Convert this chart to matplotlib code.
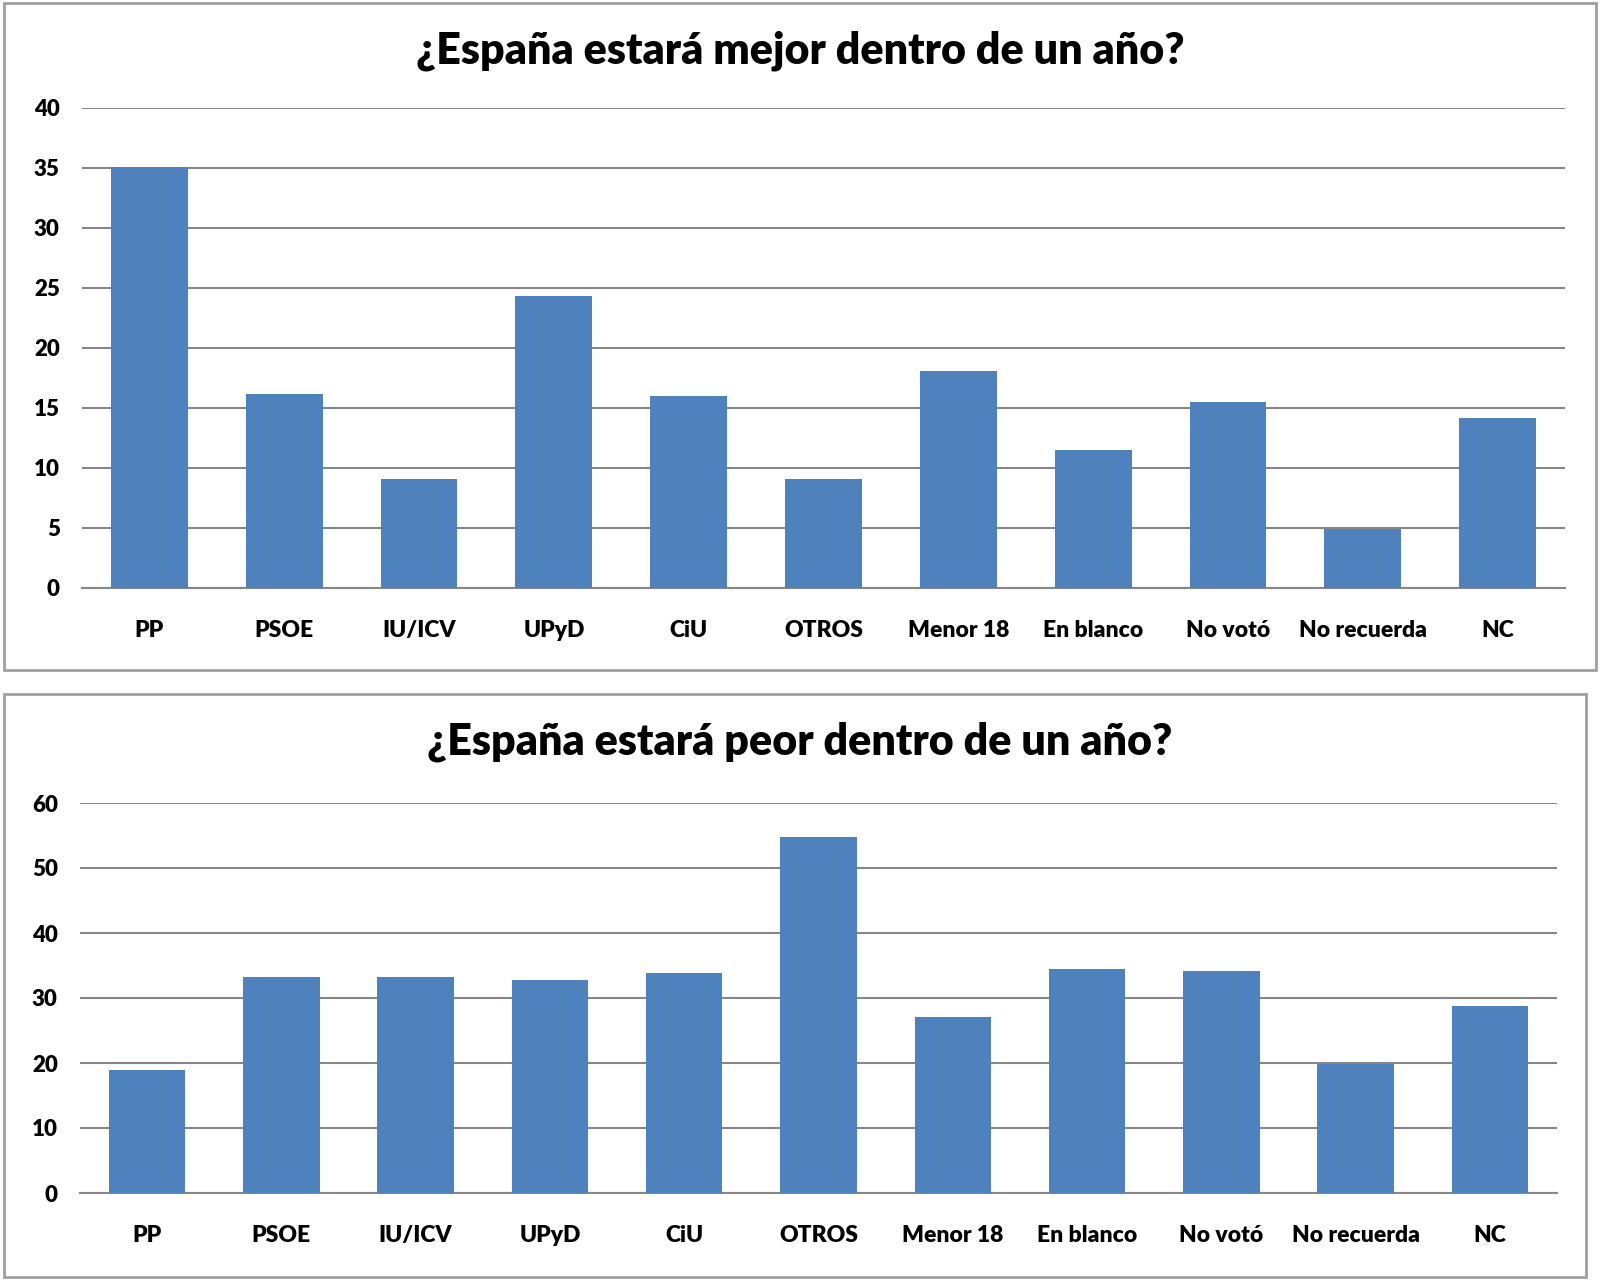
import matplotlib
matplotlib.use("Agg")
import matplotlib.pyplot as plt
from matplotlib.patches import Rectangle

plt.rcParams["font.family"] = ["Lato", "DejaVu Sans"]

categories = ["PP", "PSOE", "IU/ICV", "UPyD", "CiU", "OTROS", "Menor 18",
              "En blanco", "No votó", "No recuerda", "NC"]
mejor = [35.1, 16.2, 9.1, 24.3, 16.0, 9.1, 18.1, 11.5, 15.5, 4.9, 14.2]
peor = [18.9, 33.3, 33.3, 32.7, 33.8, 54.7, 27.1, 34.4, 34.1, 19.9, 28.8]

title_mejor = "¿España estará mejor dentro de un año?"
title_peor = "¿España estará peor dentro de un año?"

BAR = "#4F81BD"
GRID = "#878787"
FRAME = "#A0A0A0"

W, H = 1600, 1282
fig = plt.figure(figsize=(W / 100, H / 100), dpi=100)


def px(x0, y0, x1, y1):
    # pixel box (top-left origin) -> figure fraction rect
    return (x0 / W, 1 - y1 / H, (x1 - x0) / W, (y1 - y0) / H)


def frame(x0, y0, x1, y1):
    l, b, w, h = px(x0, y0, x1, y1)
    fig.patches.append(Rectangle((l, b), w, h, transform=fig.transFigure,
                                 fill=False, edgecolor=FRAME, lw=2, zorder=0))


def panel(rect, values, ymax, step, title, title_y):
    ax = fig.add_axes(rect)
    xs = range(len(categories))
    ax.bar(xs, values, width=0.57, color=BAR, zorder=3)
    ax.set_xlim(-0.5, len(categories) - 0.5)
    ax.set_ylim(0, ymax)
    ax.set_yticks(range(0, ymax + 1, step))
    ax.yaxis.grid(True, color=GRID, lw=1.5, zorder=0)
    ax.set_axisbelow(True)
    for s in ("top", "right", "left"):
        ax.spines[s].set_visible(False)
    ax.spines["bottom"].set_color(GRID)
    ax.spines["bottom"].set_linewidth(1.5)
    ax.tick_params(length=0)
    ax.tick_params(axis="y", pad=16, labelsize=16)
    ax.tick_params(axis="x", pad=23, labelsize=16.5)
    ax.set_xticks(list(xs))
    ax.set_xticklabels(categories)
    for t in ax.get_xticklabels() + ax.get_yticklabels():
        t.set_fontweight("heavy")
    fig.text(0.5, 1 - title_y / H, title, ha="center", va="center",
             fontsize=31, fontweight="heavy")
    return ax


frame(4, 3, 1596, 670)
frame(4, 694, 1586, 1277)

panel(px(82, 108, 1565, 588), mejor, 40, 5, title_mejor, 51)
panel(px(80, 803, 1557, 1193), peor, 60, 10, title_peor, 742)

fig.savefig("out.png", dpi=100)
